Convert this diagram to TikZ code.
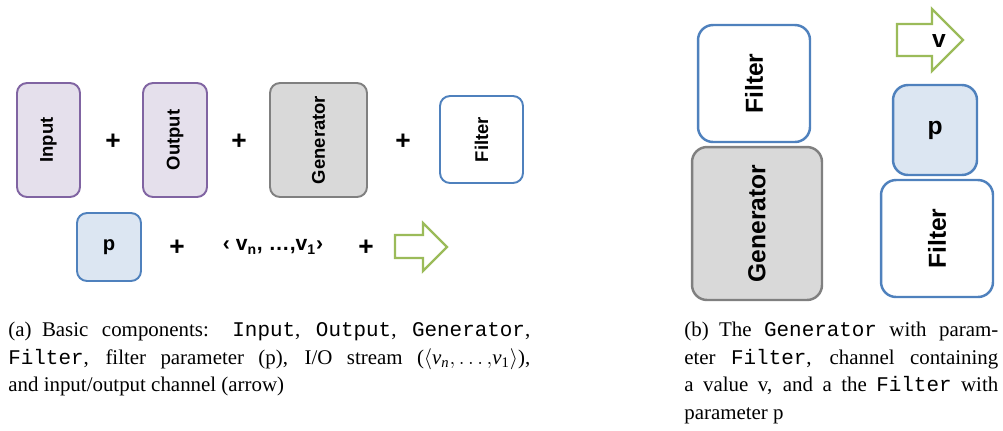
\documentclass[tikz,border=0pt]{standalone}
\usepackage{fontspec}
\setmainfont{Liberation Serif}
\setsansfont{Liberation Sans}
\setmonofont{Liberation Mono}
\usepackage{tikz}
\definecolor{iopurple}{HTML}{8064A2}
\definecolor{iolilac}{HTML}{E5E0EC}
\definecolor{gengray}{HTML}{808080}
\definecolor{genfill}{HTML}{D9D9D9}
\definecolor{filtblue}{HTML}{4F81BD}
\definecolor{parfill}{HTML}{DCE6F2}
\definecolor{changreen}{HTML}{9BBB59}
\tikzset{
    comp/.style={rounded corners=0.2cm, line width=1.1pt, inner sep=0pt,
        font=\sffamily\bfseries\fontsize{10.5}{12}\selectfont},
    big/.style={rounded corners=0.3cm, line width=1.4pt,
        font=\sffamily\bfseries\fontsize{14}{16}\selectfont},
    iobox/.style={comp, rotate=90, draw=iopurple, fill=iolilac},
    genbox/.style={comp, rotate=90, draw=gengray, fill=genfill},
    filtbox/.style={comp, rotate=90, draw=filtblue, fill=white},
    parambox/.style={comp, draw=filtblue, fill=parfill, font=\sffamily\bfseries\fontsize{11.5}{12}\selectfont},
    plussign/.style={font=\sffamily\bfseries\fontsize{15}{15}\selectfont},
    channel/.style={draw=changreen, line width=1.3pt, fill=white},
    capt/.style={anchor=north west, inner sep=0pt, align=justify,
        font=\fontsize{11.9}{15.6}\selectfont}
}
\newcommand{\vsub}[1]{\textit{v}\textsubscript{#1}}

\begin{document}
\begin{tikzpicture}[x=0.02cm, y=-0.02cm]
    \useasboundingbox (0, 0) rectangle (1003, 430);
    % (a) basic components
    \node[iobox, minimum width=2.28cm, minimum height=1.26cm](input) at (48.5, 140){Input};
    \node[plussign](plusa) at (113, 142){+};
    \node[iobox, minimum width=2.28cm, minimum height=1.28cm](output) at (175, 140){Output};
    \node[plussign](plusb) at (239, 142){+};
    \node[genbox, minimum width=2.28cm, minimum height=1.94cm](gen) at (318.5, 140){Generator};
    \node[plussign](plusc) at (403, 142){+};
    \node[filtbox, minimum width=1.74cm, minimum height=1.66cm](filt) at (481.5, 139.5){Filter};
    \node[parambox, minimum width=1.28cm, minimum height=1.36cm](param) at (109, 247){p};
    \node[plussign](plusd) at (177, 248){+};
    \node[font=\sffamily\bfseries\fontsize{12}{12}\selectfont](stream) at (273, 247){‹ v\textsubscript{n}, …,v\textsubscript{1}›};
    \node[plussign](pluse) at (366, 248){+};
    \draw[channel](395, 235)--(423, 235)--(423, 223)--(447, 247)--(423, 271)--(423, 258)--(395, 258)--cycle;
    % (b) generator with parameter, channel, filter with parameter
    \node[filtbox, big, minimum width=2.34cm, minimum height=2.24cm](filtup) at (754, 83.5){Filter};
    \node[genbox, big, minimum width=3.06cm, minimum height=2.6cm](genbig) at (757, 223.5){Generator};
    \draw[channel](897, 24)--(932, 24)--(932, 9)--(963, 40)--(932, 71)--(932, 56)--(897, 56)--cycle;
    \node[font=\sffamily\bfseries\fontsize{14}{14}\selectfont](val) at (939, 41){v};
    \node[parambox, big, minimum width=1.68cm, minimum height=1.8cm](parbig) at (935, 130){p};
    \node[filtbox, big, minimum width=2.34cm, minimum height=2.24cm](filtlow) at (937, 238.5){Filter};
    % captions
    \node[capt, text width=10.44cm](capa) at (8, 322){(a)\enspace Basic components: \texttt{Input}, \texttt{Output}, \texttt{Generator},\linebreak
        \texttt{Filter}, filter parameter (p), I/O stream ($\langle$\vsub{\textit{n}}$,\ldots,$\vsub{1}$\rangle$),\linebreak
        and input/output channel (arrow)};
    \node[capt, text width=6.28cm](capb) at (684, 322){(b)\enspace The \texttt{Generator} with param-\linebreak
        eter \texttt{Filter}, channel containing\linebreak
        a value v, and a the \texttt{Filter} with\linebreak
        parameter p};
\end{tikzpicture}
\end{document}
